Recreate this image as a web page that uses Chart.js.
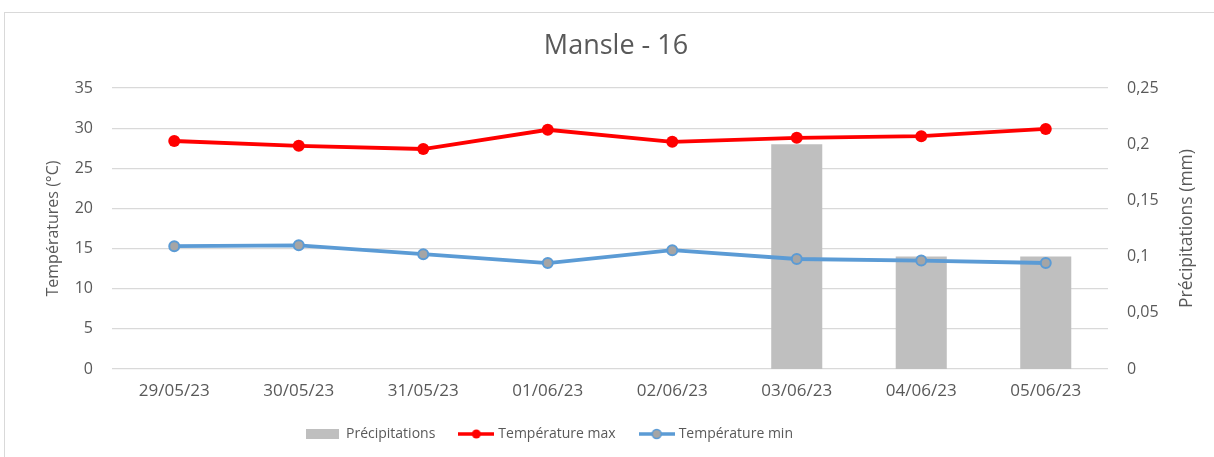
<!DOCTYPE html>
<html>
<head>
<meta charset="utf-8">
<script src="https://cdn.jsdelivr.net/npm/chart.js@4.4.0/dist/chart.umd.min.js"></script>
<style>
  html, body { margin: 0; padding: 0; background: #fff; }
  #wrap { position: relative; width: 1214px; height: 457px; overflow: hidden; }
  #frame { position: absolute; left: 4px; top: 12px; width: 1220px; height: 460px; border: 1px solid #d9d9d9; box-sizing: border-box; }
  #myChart { position: absolute; left: 0; top: 0; }
</style>
</head>
<body>
<div id="wrap">
  <div id="frame"></div>
  <canvas id="myChart" width="1214" height="457"></canvas>
</div>
<script>
// Data
const dates = ["29/05/23", "30/05/23", "31/05/23", "01/06/23", "02/06/23", "03/06/23", "04/06/23", "05/06/23"];
const precipitations = [0, 0, 0, 0, 0, 0.2, 0.1, 0.1];
const tempMax = [28.4, 27.8, 27.4, 29.8, 28.3, 28.8, 29.0, 29.9];
const tempMin = [15.3, 15.4, 14.3, 13.2, 14.8, 13.7, 13.5, 13.2];

const textColor = "#595959";
const fontFamily = "'Open Sans', sans-serif";
Chart.defaults.font.family = fontFamily;
Chart.defaults.color = textColor;

// Little legend icons like the ones in the spreadsheet chart
function legendIcon(kind) {
    const c = document.createElement("canvas");
    c.width = 36;
    c.height = 14;
    const ctx = c.getContext("2d");
    if (kind === "bar") {
        ctx.fillStyle = "#bfbfbf";
        ctx.fillRect(0, 2, 33, 10);
    } else {
        const line = kind === "max" ? "#ff0000" : "#5b9bd5";
        const fill = kind === "max" ? "#ff0000" : "#a5a5a5";
        ctx.strokeStyle = line;
        ctx.lineWidth = 3.5;
        ctx.beginPath();
        ctx.moveTo(0, 7);
        ctx.lineTo(36, 7);
        ctx.stroke();
        ctx.fillStyle = fill;
        ctx.beginPath();
        ctx.arc(18, 7, 4.5, 0, Math.PI * 2);
        ctx.fill();
        if (kind === "min") {
            ctx.lineWidth = 1.5;
            ctx.stroke();
        }
    }
    return c;
}
const icons = [legendIcon("bar"), legendIcon("max"), legendIcon("min")];

// Right axis title reads bottom-to-top, so draw it ourselves
const rightTitle = {
    id: "rightTitle",
    afterDraw(chart) {
        const ctx = chart.ctx;
        const area = chart.chartArea;
        ctx.save();
        ctx.translate(1187, (area.top + area.bottom) / 2);
        ctx.rotate(-Math.PI / 2);
        ctx.fillStyle = textColor;
        ctx.font = "17.5px " + fontFamily;
        ctx.textAlign = "center";
        ctx.textBaseline = "middle";
        ctx.fillText("Précipitations (mm)", 0, 0);
        ctx.restore();
    }
};

// nudge legend and title sideways like in the original
const boxShift = {
    id: "boxShift",
    afterLayout(chart) {
        const lg = chart.legend;
        const pad = lg.options.labels.padding;
        const x0 = (lg.left + pad + lg.right - lg.lineWidths[0]) / 2;
        const dx = 309 - x0;
        lg.left += dx;
        lg.right += dx;
        chart.titleBlock.left += 9;
        chart.titleBlock.right += 9;
    }
};

new Chart(document.getElementById("myChart"), {
    type: "bar",
    data: {
        labels: dates,
        datasets: [
            {
                type: "bar",
                label: "Précipitations",
                data: precipitations,
                yAxisID: "y1",
                backgroundColor: "#bfbfbf",
                barPercentage: 0.41,
                categoryPercentage: 1,
                order: 3
            },
            {
                type: "line",
                label: "Température max",
                data: tempMax,
                yAxisID: "y",
                borderColor: "#ff0000",
                backgroundColor: "#ff0000",
                borderWidth: 3.8,
                pointRadius: 6,
                pointBorderWidth: 0,
                pointBackgroundColor: "#ff0000",
                order: 1
            },
            {
                type: "line",
                label: "Température min",
                data: tempMin,
                yAxisID: "y",
                borderColor: "#5b9bd5",
                backgroundColor: "#a5a5a5",
                borderWidth: 3.8,
                pointRadius: 5,
                pointBorderWidth: 2,
                pointBackgroundColor: "#a5a5a5",
                pointBorderColor: "#5b9bd5",
                order: 2
            }
        ]
    },
    options: {
        responsive: false,
        animation: false,
        layout: { padding: { top: 0, left: 0, right: 0, bottom: 6 } },
        plugins: {
            tooltip: { enabled: false },
            title: {
                display: true,
                text: "Mansle - 16",
                color: textColor,
                font: { size: 27, weight: "normal" },
                padding: { top: 30, bottom: 25.6 }
            },
            legend: {
                position: "bottom",
                labels: {
                    usePointStyle: true,
                    pointStyleWidth: 30,
                    color: textColor,
                    font: { size: 14 },
                    padding: 26,
                    generateLabels(chart) {
                        return chart.data.datasets.map((ds, i) => ({
                            text: ds.label,
                            pointStyle: icons[i],
                            fontColor: textColor,
                            lineWidth: 0,
                            strokeStyle: "transparent",
                            datasetIndex: i
                        }));
                    }
                }
            }
        },
        scales: {
            x: {
                grid: { display: false, drawTicks: false },
                border: { display: false },
                ticks: { color: textColor, font: { size: 17 }, padding: 11.6, maxRotation: 0 },
                afterFit(scale) { scale.height = 32; }
            },
            y: {
                position: "left",
                min: 0,
                max: 35,
                grid: { color: "#d9d9d9", lineWidth: 1.2, drawTicks: false },
                border: { display: false },
                ticks: { stepSize: 5, color: textColor, font: { size: 16 }, padding: 19 },
                title: {
                    display: true,
                    text: "Températures (°C)",
                    color: textColor,
                    font: { size: 16 },
                    padding: { top: 44, bottom: 0 }
                },
                afterFit(scale) { scale.width = 112; }
            },
            y1: {
                position: "right",
                min: 0,
                max: 0.25,
                grid: { display: false, drawTicks: false },
                border: { display: false },
                ticks: {
                    stepSize: 0.05,
                    color: textColor,
                    font: { size: 16 },
                    padding: 19,
                    callback: v => String(Math.round(v * 100) / 100).replace(".", ",")
                },
                afterFit(scale) { scale.width = 106; }
            }
        }
    },
    plugins: [rightTitle, boxShift]
});
</script>
</body>
</html>
